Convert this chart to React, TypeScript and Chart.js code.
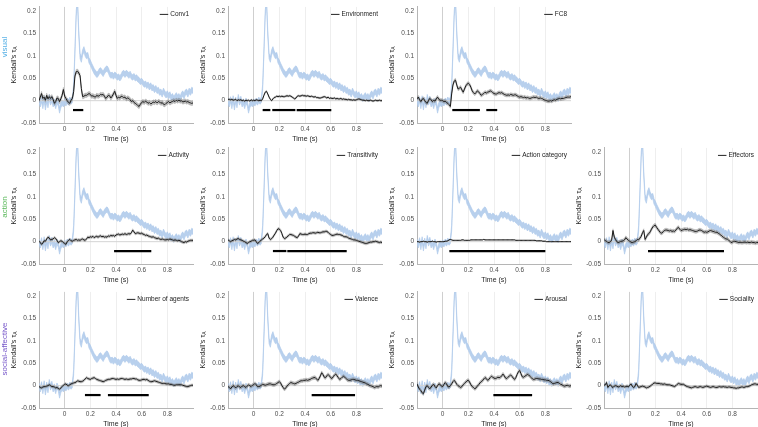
import React, { useEffect, useRef } from "react";
import { Chart, registerables } from "chart.js";
Chart.register(...registerables);

const TIME = [
  -0.2, -0.19, -0.18, -0.17, -0.16, -0.15, -0.14, -0.13, -0.12, -0.11,
  -0.1, -0.09, -0.08, -0.07, -0.06, -0.05, -0.04, -0.03, -0.02, -0.01,
  0, 0.01, 0.02, 0.03, 0.04, 0.05, 0.06, 0.07, 0.08, 0.09,
  0.1, 0.11, 0.12, 0.13, 0.14, 0.15, 0.16, 0.17, 0.18, 0.19,
  0.2, 0.21, 0.22, 0.23, 0.24, 0.25, 0.26, 0.27, 0.28, 0.29,
  0.3, 0.31, 0.32, 0.33, 0.34, 0.35, 0.36, 0.37, 0.38, 0.39,
  0.4, 0.41, 0.42, 0.43, 0.44, 0.45, 0.46, 0.47, 0.48, 0.49,
  0.5, 0.51, 0.52, 0.53, 0.54, 0.55, 0.56, 0.57, 0.58, 0.59,
  0.6, 0.61, 0.62, 0.63, 0.64, 0.65, 0.66, 0.67, 0.68, 0.69,
  0.7, 0.71, 0.72, 0.73, 0.74, 0.75, 0.76, 0.77, 0.78, 0.79,
  0.8, 0.81, 0.82, 0.83, 0.84, 0.85, 0.86, 0.87, 0.88, 0.89,
  0.9, 0.91, 0.92, 0.93, 0.94, 0.95, 0.96, 0.97, 0.98, 0.99,
  1.0,
];

const X_TICKS = [0, 0.2, 0.4, 0.6, 0.8];
const Y_TICKS = [-0.05, 0, 0.05, 0.1, 0.15, 0.2];
const Y_TICK_LABELS = ["-0.05", "0", "0.05", "0.1", "0.15", "0.2"];
const X_TICK_LABELS = ["0", "0.2", "0.4", "0.6", "0.8"];

// noise ceiling (blue band)
const NOISE_CEILING = [
  0.000, -0.008, 0.003, -0.012, 0.005, -0.015, 0.002, -0.010, 0.008, -0.004,
  0.004, -0.008, -0.002, -0.012, 0.000, -0.006, -0.022, -0.010, -0.004, -0.008,
  -0.002, -0.006, 0.000, -0.004, 0.002, -0.002, 0.002, 0.030, 0.110, 0.195,
  0.225, 0.150, 0.100, 0.092, 0.108, 0.115, 0.105, 0.100, 0.102, 0.090,
  0.085, 0.078, 0.072, 0.066, 0.062, 0.058, 0.060, 0.066, 0.068, 0.064,
  0.060, 0.066, 0.070, 0.072, 0.068, 0.060, 0.056, 0.058, 0.054, 0.058,
  0.056, 0.052, 0.054, 0.050, 0.054, 0.060, 0.062, 0.058, 0.062, 0.060,
  0.056, 0.060, 0.054, 0.052, 0.055, 0.050, 0.052, 0.048, 0.046, 0.042,
  0.044, 0.040, 0.036, 0.038, 0.033, 0.036, 0.030, 0.034, 0.028, 0.030,
  0.024, 0.028, 0.022, 0.024, 0.018, 0.020, 0.014, 0.022, 0.016, 0.012,
  0.016, 0.010, 0.014, 0.006, 0.010, 0.004, 0.008, 0.012, 0.006, 0.010,
  0.004, 0.012, 0.016, 0.010, 0.018, 0.020, 0.014, 0.022, 0.018, 0.024,
  0.022,
];
const NOISE_CEILING_SEM = 0.006;

const CONV1 = [
  0.000, 0.008, 0.016, 0.005, 0.008, 0.001, 0.012, 0.004, 0.009, 0.005,
  0.009, 0.003, -0.006, -0.002, 0.006, 0.005, -0.002, 0.004, 0.012, 0.025,
  0.010, 0.005, 0.000, -0.004, -0.006, 0.001, 0.005, 0.020, 0.055, 0.065,
  0.066, 0.062, 0.056, 0.027, 0.009, 0.010, 0.012, 0.012, 0.014, 0.016,
  0.014, 0.010, 0.011, 0.009, 0.008, 0.012, 0.010, 0.011, 0.014, 0.013,
  0.014, 0.010, 0.005, 0.008, 0.012, 0.011, 0.006, 0.010, 0.015, 0.021,
  0.012, 0.005, 0.008, 0.006, 0.010, 0.009, 0.007, 0.008, 0.004, 0.006,
  0.005, 0.002, -0.002, 0.000, -0.004, -0.006, -0.008, -0.011, -0.013, -0.008,
  -0.004, -0.002, -0.004, -0.001, -0.003, -0.006, -0.004, -0.007, -0.006, -0.003,
  -0.004, -0.002, -0.005, -0.002, -0.003, -0.006, -0.004, -0.008, -0.009, -0.006,
  -0.004, -0.002, -0.005, -0.003, -0.002, 0.000, -0.002, 0.001, -0.001, 0.001,
  -0.001, 0.000, -0.003, -0.002, -0.001, -0.003, -0.002, -0.004, -0.005, -0.006,
  -0.005,
];

const ENVIRONMENT = [
  0.003, 0.003, 0.002, 0.003, 0.001, 0.002, 0.003, 0.000, 0.002, 0.001,
  0.002, 0.000, 0.001, -0.001, 0.001, 0.000, 0.001, -0.001, 0.002, 0.000,
  0.001, 0.000, 0.002, 0.001, 0.000, 0.001, 0.000, 0.004, 0.012, 0.019,
  0.021, 0.015, 0.008, 0.003, 0.000, 0.004, 0.007, 0.008, 0.010, 0.009,
  0.010, 0.009, 0.010, 0.009, 0.009, 0.010, 0.011, 0.010, 0.011, 0.010,
  0.008, 0.006, 0.004, 0.006, 0.010, 0.011, 0.010, 0.011, 0.012, 0.011,
  0.011, 0.010, 0.011, 0.010, 0.009, 0.010, 0.009, 0.008, 0.009, 0.007,
  0.007, 0.006, 0.006, 0.007, 0.008, 0.009, 0.008, 0.006, 0.008, 0.005,
  0.006, 0.005, 0.005, 0.006, 0.004, 0.005, 0.004, 0.004, 0.005, 0.003,
  0.004, 0.003, 0.003, 0.002, 0.003, 0.002, 0.002, 0.001, 0.002, 0.001,
  0.002, 0.003, 0.004, 0.003, 0.002, 0.001, 0.001, 0.000, 0.001, 0.000,
  0.000, 0.001, 0.000, -0.001, 0.000, 0.001, 0.000, 0.000, 0.001, 0.000,
  0.000,
];

const FC8 = [
  0.004, 0.008, 0.002, -0.002, 0.003, 0.005, 0.000, -0.004, -0.006, 0.001,
  0.005, 0.002, -0.002, 0.001, -0.001, 0.004, 0.008, 0.003, 0.001, 0.001,
  0.000, -0.002, -0.001, -0.004, -0.006, -0.009, -0.013, 0.015, 0.035, 0.044,
  0.046, 0.035, 0.026, 0.028, 0.030, 0.024, 0.019, 0.026, 0.033, 0.037,
  0.039, 0.036, 0.030, 0.022, 0.018, 0.015, 0.018, 0.022, 0.020, 0.016,
  0.012, 0.014, 0.016, 0.019, 0.017, 0.019, 0.020, 0.022, 0.021, 0.018,
  0.016, 0.015, 0.015, 0.017, 0.018, 0.017, 0.018, 0.016, 0.014, 0.013,
  0.012, 0.013, 0.012, 0.014, 0.013, 0.012, 0.013, 0.013, 0.011, 0.009,
  0.008, 0.009, 0.008, 0.007, 0.008, 0.006, 0.007, 0.006, 0.005, 0.006,
  0.007, 0.008, 0.007, 0.008, 0.006, 0.005, 0.006, 0.005, 0.004, 0.002,
  0.001, 0.000, -0.001, -0.001, 0.000, -0.001, 0.001, 0.002, 0.001, 0.003,
  0.004, 0.005, 0.004, 0.005, 0.005, 0.006, 0.007, 0.008, 0.008, 0.008,
  0.009,
];

const ACTIVITY = [
  0.001, -0.002, -0.006, -0.003, 0.002, 0.001, 0.006, 0.010, 0.008, 0.004,
  0.005, 0.006, 0.009, 0.007, 0.003, -0.002, 0.000, 0.002, 0.001, -0.002,
  -0.004, -0.006, 0.000, 0.003, 0.005, 0.002, 0.001, 0.003, 0.004, 0.005,
  0.003, 0.004, 0.003, 0.005, 0.006, 0.004, 0.003, 0.006, 0.010, 0.009,
  0.011, 0.010, 0.012, 0.009, 0.011, 0.012, 0.010, 0.012, 0.013, 0.011,
  0.012, 0.010, 0.011, 0.010, 0.013, 0.012, 0.014, 0.013, 0.014, 0.012,
  0.015, 0.016, 0.017, 0.015, 0.016, 0.017, 0.016, 0.018, 0.016, 0.017,
  0.018, 0.017, 0.020, 0.026, 0.022, 0.018, 0.019, 0.020, 0.019, 0.018,
  0.019, 0.017, 0.016, 0.014, 0.015, 0.013, 0.012, 0.011, 0.010, 0.011,
  0.009, 0.008, 0.007, 0.008, 0.006, 0.005, 0.006, 0.005, 0.004, 0.004,
  0.005, 0.004, 0.006, 0.005, 0.004, 0.003, 0.004, 0.003, 0.002, 0.003,
  0.002, 0.000, -0.001, -0.002, 0.000, -0.001, 0.001, 0.002, 0.003, 0.003,
  0.003,
];

const TRANSITIVITY = [
  0.004, 0.002, 0.000, 0.002, 0.003, 0.005, 0.004, 0.006, 0.007, 0.005,
  0.004, 0.003, 0.001, 0.000, -0.002, -0.004, -0.002, 0.000, 0.001, 0.003,
  0.003, 0.004, 0.000, -0.004, -0.002, 0.001, 0.004, 0.006, 0.008, 0.011,
  0.016, 0.018, 0.008, 0.005, 0.007, 0.010, 0.015, 0.019, 0.025, 0.029,
  0.028, 0.025, 0.018, 0.010, 0.007, 0.008, 0.011, 0.013, 0.016, 0.016,
  0.015, 0.014, 0.012, 0.010, 0.009, 0.013, 0.018, 0.017, 0.016, 0.016,
  0.017, 0.016, 0.016, 0.018, 0.019, 0.019, 0.020, 0.020, 0.019, 0.020,
  0.021, 0.020, 0.020, 0.021, 0.022, 0.022, 0.023, 0.023, 0.021, 0.018,
  0.016, 0.014, 0.014, 0.015, 0.016, 0.017, 0.016, 0.016, 0.015, 0.014,
  0.012, 0.011, 0.011, 0.010, 0.008, 0.007, 0.006, 0.005, 0.004, 0.004,
  0.003, 0.002, 0.001, 0.000, -0.001, -0.002, -0.003, -0.004, -0.004, -0.003,
  -0.002, -0.001, -0.001, 0.000, 0.000, 0.001, 0.000, -0.001, -0.002, -0.001,
  -0.002,
];

const ACTION_CATEGORY = [
  0.000, 0.000, -0.001, 0.000, 0.000, 0.001, 0.000, 0.000, -0.001, 0.000,
  0.000, 0.000, 0.001, 0.000, 0.000, -0.001, 0.000, 0.000, 0.000, 0.000,
  0.000, 0.000, 0.001, 0.001, 0.002, 0.004, 0.005, 0.004, 0.003, 0.003,
  0.003, 0.003, 0.003, 0.003, 0.003, 0.004, 0.004, 0.003, 0.003, 0.003,
  0.003, 0.003, 0.004, 0.004, 0.004, 0.004, 0.004, 0.004, 0.004, 0.004,
  0.004, 0.004, 0.005, 0.004, 0.004, 0.004, 0.004, 0.004, 0.004, 0.004,
  0.004, 0.004, 0.004, 0.004, 0.004, 0.004, 0.004, 0.004, 0.004, 0.004,
  0.004, 0.004, 0.004, 0.004, 0.004, 0.004, 0.004, 0.003, 0.003, 0.003,
  0.003, 0.003, 0.003, 0.003, 0.003, 0.003, 0.003, 0.003, 0.003, 0.003,
  0.003, 0.003, 0.003, 0.002, 0.002, 0.002, 0.002, 0.002, 0.001, 0.001,
  0.001, 0.000, 0.000, 0.000, 0.000, 0.000, 0.000, 0.000, 0.000, 0.000,
  0.000, 0.000, 0.000, 0.000, 0.000, 0.000, 0.000, 0.000, 0.000, 0.000,
  0.000,
];

const EFFECTORS = [
  0.005, 0.002, 0.001, -0.002, -0.002, 0.000, 0.004, 0.025, 0.010, 0.005,
  0.000, -0.002, -0.001, 0.001, 0.001, 0.002, 0.004, 0.009, 0.006, 0.003,
  0.001, -0.001, -0.002, -0.001, 0.000, 0.002, 0.005, 0.004, 0.008, 0.012,
  0.020, 0.025, 0.005, 0.010, 0.016, 0.018, 0.022, 0.028, 0.033, 0.036,
  0.037, 0.032, 0.028, 0.024, 0.020, 0.019, 0.022, 0.025, 0.026, 0.026,
  0.025, 0.024, 0.025, 0.023, 0.024, 0.023, 0.026, 0.030, 0.032, 0.028,
  0.025, 0.026, 0.027, 0.028, 0.027, 0.028, 0.026, 0.027, 0.026, 0.025,
  0.024, 0.023, 0.023, 0.024, 0.026, 0.026, 0.025, 0.023, 0.021, 0.022,
  0.021, 0.022, 0.024, 0.025, 0.024, 0.023, 0.022, 0.021, 0.021, 0.019,
  0.017, 0.015, 0.012, 0.010, 0.008, 0.006, 0.006, 0.004, 0.001, -0.002,
  -0.001, 0.001, 0.001, 0.000, -0.001, -0.002, -0.001, -0.002, -0.002, -0.001,
  -0.001, -0.002, -0.001, -0.002, -0.002, -0.001, -0.002, -0.002, -0.003, -0.002,
  -0.002,
];

const NUMBER_OF_AGENTS = [
  -0.002, -0.004, -0.005, -0.003, -0.002, -0.002, -0.001, 0.000, 0.002, 0.000,
  -0.002, -0.002, -0.003, -0.005, -0.004, -0.006, -0.008, -0.005, -0.002, 0.001,
  0.003, 0.004, 0.001, 0.000, 0.002, 0.004, 0.005, 0.006, 0.007, 0.008,
  0.011, 0.010, 0.009, 0.009, 0.010, 0.012, 0.015, 0.018, 0.016, 0.015,
  0.014, 0.016, 0.017, 0.018, 0.016, 0.014, 0.013, 0.012, 0.011, 0.010,
  0.009, 0.010, 0.012, 0.013, 0.014, 0.014, 0.015, 0.016, 0.016, 0.015,
  0.014, 0.015, 0.014, 0.015, 0.016, 0.016, 0.015, 0.014, 0.015, 0.014,
  0.014, 0.015, 0.015, 0.016, 0.016, 0.015, 0.015, 0.013, 0.012, 0.012,
  0.013, 0.014, 0.014, 0.013, 0.014, 0.012, 0.010, 0.009, 0.009, 0.010,
  0.011, 0.010, 0.009, 0.008, 0.007, 0.006, 0.005, 0.005, 0.005, 0.004,
  0.004, 0.004, 0.003, 0.003, 0.002, 0.001, 0.001, 0.002, 0.002, 0.002,
  0.002, 0.002, 0.001, 0.000, -0.001, -0.002, -0.002, -0.001, 0.000, 0.001,
  0.001,
];

const VALENCE = [
  -0.002, -0.004, -0.007, -0.003, 0.000, -0.002, -0.005, -0.002, 0.000, -0.003,
  -0.004, -0.001, 0.000, -0.002, -0.004, -0.001, 0.002, 0.000, -0.002, 0.001,
  0.002, 0.005, 0.002, -0.002, -0.002, -0.001, 0.001, 0.003, 0.002, 0.001,
  0.002, 0.003, 0.004, 0.004, 0.003, 0.002, 0.002, 0.003, 0.005, 0.007,
  0.009, 0.006, 0.000, -0.004, -0.008, -0.005, -0.001, 0.002, 0.005, 0.007,
  0.006, 0.005, 0.004, 0.005, 0.007, 0.008, 0.010, 0.011, 0.011, 0.012,
  0.012, 0.013, 0.012, 0.013, 0.014, 0.016, 0.017, 0.018, 0.018, 0.015,
  0.012, 0.016, 0.022, 0.029, 0.025, 0.019, 0.018, 0.022, 0.025, 0.022,
  0.018, 0.016, 0.020, 0.024, 0.026, 0.022, 0.018, 0.014, 0.016, 0.019,
  0.021, 0.019, 0.016, 0.013, 0.012, 0.012, 0.013, 0.014, 0.014, 0.013,
  0.012, 0.012, 0.011, 0.010, 0.009, 0.008, 0.007, 0.006, 0.004, 0.003,
  0.001, 0.000, -0.001, -0.002, -0.004, -0.003, -0.002, -0.003, -0.001, 0.000,
  -0.001,
];

const AROUSAL = [
  0.004, -0.003, -0.008, -0.011, -0.016, -0.018, -0.010, -0.002, 0.000, -0.004,
  -0.007, -0.003, 0.001, 0.003, -0.002, -0.005, 0.000, 0.004, 0.003, -0.001,
  -0.002, 0.003, 0.007, 0.004, -0.002, -0.003, 0.000, 0.004, 0.009, 0.012,
  0.008, 0.003, 0.000, -0.002, -0.004, -0.002, 0.002, 0.005, 0.008, 0.011,
  0.012, 0.008, 0.002, -0.002, -0.004, -0.007, -0.005, -0.001, 0.002, 0.006,
  0.009, 0.011, 0.015, 0.018, 0.016, 0.012, 0.014, 0.018, 0.021, 0.019,
  0.017, 0.016, 0.017, 0.019, 0.018, 0.019, 0.022, 0.026, 0.022, 0.017,
  0.016, 0.019, 0.022, 0.024, 0.021, 0.017, 0.014, 0.018, 0.025, 0.031,
  0.034, 0.027, 0.020, 0.019, 0.021, 0.023, 0.025, 0.024, 0.021, 0.018,
  0.015, 0.014, 0.015, 0.016, 0.016, 0.015, 0.015, 0.014, 0.014, 0.013,
  0.013, 0.012, 0.012, 0.011, 0.009, 0.007, 0.004, 0.005, 0.006, 0.007,
  0.007, 0.005, 0.003, 0.002, 0.000, -0.001, 0.000, 0.001, 0.000, -0.001,
  0.000,
];

const SOCIALITY = [
  0.001, 0.002, 0.007, -0.004, 0.000, 0.002, -0.002, -0.004, -0.001, 0.000,
  -0.001, -0.003, -0.002, 0.000, -0.002, -0.001, -0.003, -0.002, -0.001, -0.003,
  0.001, 0.004, -0.001, -0.004, -0.002, 0.005, 0.001, -0.004, -0.003, -0.002,
  -0.001, -0.002, -0.003, -0.005, -0.004, -0.003, -0.001, 0.001, 0.004, 0.006,
  0.006, 0.005, 0.005, 0.005, 0.004, 0.004, 0.003, 0.004, 0.003, 0.002,
  0.002, 0.002, 0.001, 0.000, -0.001, -0.002, 0.000, 0.003, 0.005, 0.004,
  0.003, 0.003, 0.003, 0.001, -0.001, -0.002, -0.003, -0.004, -0.005, -0.004,
  -0.003, -0.002, -0.003, -0.004, -0.003, -0.002, -0.003, -0.004, -0.003, -0.002,
  -0.001, -0.002, -0.003, -0.004, -0.003, -0.002, -0.003, -0.004, -0.004, -0.003,
  -0.002, -0.003, -0.003, -0.002, -0.003, -0.003, -0.004, -0.003, -0.003, -0.004,
  -0.004, -0.005, -0.005, -0.006, -0.005, -0.005, -0.004, -0.003, -0.003, -0.004,
  -0.003, -0.002, -0.002, -0.001, 0.000, 0.002, 0.003, 0.004, 0.004, 0.003,
  0.003,
];

// significant time windows [start, end] (s)
const CONV1_SIG = [[0.065, 0.145]];
const ENVIRONMENT_SIG = [[0.07, 0.13], [0.145, 0.325], [0.335, 0.605]];
const FC8_SIG = [[0.075, 0.29], [0.34, 0.425]];
const ACTIVITY_SIG = [[0.385, 0.675]];
const TRANSITIVITY_SIG = [[0.15, 0.255], [0.262, 0.725]];
const ACTION_CATEGORY_SIG = [[0.052, 0.8]];
const EFFECTORS_SIG = [[0.143, 0.735]];
const NUMBER_OF_AGENTS_SIG = [[0.158, 0.28], [0.337, 0.655]];
const VALENCE_SIG = [[0.452, 0.79]];
const AROUSAL_SIG = [[0.395, 0.697]];
const SOCIALITY_SIG: number[][] = [];
const SIG_LEVEL = -0.021;

const ROW_LABELS = ["visual", "action", "social-affective"];
const ROW_COLORS = ["#55b0e6", "#57b757", "#7656c9"];

const PANELS = [
  { name: "Conv1", values: CONV1, sem: 0.005, sig: CONV1_SIG, row: 0, col: 0 },
  { name: "Environment", values: ENVIRONMENT, sem: 0.002, sig: ENVIRONMENT_SIG, row: 0, col: 1 },
  { name: "FC8", values: FC8, sem: 0.004, sig: FC8_SIG, row: 0, col: 2 },
  { name: "Activity", values: ACTIVITY, sem: 0.003, sig: ACTIVITY_SIG, row: 1, col: 0 },
  { name: "Transitivity", values: TRANSITIVITY, sem: 0.003, sig: TRANSITIVITY_SIG, row: 1, col: 1 },
  { name: "Action category", values: ACTION_CATEGORY, sem: 0.0008, sig: ACTION_CATEGORY_SIG, row: 1, col: 2 },
  { name: "Effectors", values: EFFECTORS, sem: 0.004, sig: EFFECTORS_SIG, row: 1, col: 3 },
  { name: "Number of agents", values: NUMBER_OF_AGENTS, sem: 0.003, sig: NUMBER_OF_AGENTS_SIG, row: 2, col: 0 },
  { name: "Valence", values: VALENCE, sem: 0.004, sig: VALENCE_SIG, row: 2, col: 1 },
  { name: "Arousal", values: AROUSAL, sem: 0.004, sig: AROUSAL_SIG, row: 2, col: 2 },
  { name: "Sociality", values: SOCIALITY, sem: 0.003, sig: SOCIALITY_SIG, row: 2, col: 3 },
];

// layout
const COL_LEFT = [39, 228, 417, 604];
const ROW_TOP = [2, 143, 287];
const ROW_LABEL_Y = [47, 207, 349];
const PLOT_W = 154;
const PLOT_H = 121;
const PAD_L = 39;
const PAD_T = 2;
const PAD_R = 4;
const PAD_B = 22;
const FONT = "'Liberation Sans', Arial, Helvetica, sans-serif";

type PanelDef = (typeof PANELS)[number];

function Panel({ p }: { p: PanelDef }) {
  const ref = useRef<HTMLCanvasElement>(null);
  const W = PAD_L + PLOT_W + PAD_R;
  const H = PAD_T + PLOT_H + PAD_B;
  useEffect(() => {
    const pts = (vals: number[], off: number) => vals.map((v, i) => ({ x: TIME[i], y: v + off }));
    const datasets: any[] = [
      { data: pts(NOISE_CEILING, -NOISE_CEILING_SEM), borderColor: "#aac6ea", borderWidth: 0.6, pointRadius: 0, fill: false, order: 20 },
      { data: pts(NOISE_CEILING, NOISE_CEILING_SEM), borderColor: "#aac6ea", borderWidth: 0.6, pointRadius: 0, fill: "-1", backgroundColor: "rgba(180,205,236,0.95)", order: 19 },
      { data: [{ x: -0.2, y: 0 }, { x: 1.0, y: 0 }], borderColor: "#d4d4d4", borderWidth: 1, pointRadius: 0, order: 18 },
      { data: pts(p.values, -p.sem), borderColor: "rgba(120,120,120,0.6)", borderWidth: 0.4, pointRadius: 0, fill: false, order: 10 },
      { data: pts(p.values, p.sem), borderColor: "rgba(120,120,120,0.6)", borderWidth: 0.4, pointRadius: 0, fill: "-1", backgroundColor: "rgba(110,110,110,0.45)", order: 9 },
      { data: pts(p.values, 0), borderColor: "#1a1a1a", borderWidth: 1, pointRadius: 0, fill: false, order: 5 },
    ];
    p.sig.forEach((s) => {
      datasets.push({
        data: [{ x: s[0], y: SIG_LEVEL }, { x: s[1], y: SIG_LEVEL }],
        borderColor: "#000", borderWidth: 2.2, pointRadius: 0, fill: false, borderCapStyle: "butt", order: 1,
      });
    });

    const textPlugin = {
      id: "panelText",
      afterDraw(chart: any) {
        const { ctx, chartArea } = chart;
        const cy = (chartArea.top + chartArea.bottom) / 2;
        ctx.save();
        // legend
        ctx.font = `6.5px ${FONT}`;
        ctx.fillStyle = "#222";
        ctx.textBaseline = "middle";
        ctx.textAlign = "left";
        const tw = ctx.measureText(p.name).width;
        const tx = chartArea.right - 4 - tw;
        const ly = chartArea.top + 7;
        ctx.fillText(p.name, tx, ly);
        ctx.strokeStyle = "#222";
        ctx.lineWidth = 1;
        ctx.beginPath();
        ctx.moveTo(tx - 10.5, ly + 0.5);
        ctx.lineTo(tx - 2, ly + 0.5);
        ctx.stroke();
        // y title
        ctx.translate(chartArea.left - 25, cy);
        ctx.rotate(-Math.PI / 2);
        const main = "Kendall's \u03c4";
        ctx.font = `5px ${FONT}`;
        const subW = ctx.measureText("A").width;
        ctx.font = `7.2px ${FONT}`;
        const mw = ctx.measureText(main).width;
        const x0 = -(mw + subW) / 2;
        ctx.fillStyle = "#262626";
        ctx.textAlign = "left";
        ctx.fillText(main, x0, 0);
        ctx.font = `5px ${FONT}`;
        ctx.fillText("A", x0 + mw, 2);
        ctx.restore();
        if (p.col === 0) {
          ctx.save();
          ctx.translate(4.5, ROW_LABEL_Y[p.row] - ROW_TOP[p.row] + PAD_T);
          ctx.rotate(-Math.PI / 2);
          ctx.font = `8px ${FONT}`;
          ctx.fillStyle = ROW_COLORS[p.row];
          ctx.textAlign = "center";
          ctx.textBaseline = "middle";
          ctx.fillText(ROW_LABELS[p.row], 0, 0);
          ctx.restore();
        }
      },
    };

    const chart = new Chart(ref.current as HTMLCanvasElement, {
      type: "line",
      data: { datasets },
      options: {
        animation: false,
        responsive: false,
        maintainAspectRatio: false,
        events: [],
        layout: { padding: { top: PAD_T, right: PAD_R, left: 0, bottom: 0 } },
        plugins: { legend: { display: false }, tooltip: { enabled: false }, title: { display: false } },
        scales: {
          x: {
            type: "linear",
            min: -0.2,
            max: 1.0,
            afterBuildTicks: (s: any) => { s.ticks = X_TICKS.map((v) => ({ value: v })); },
            afterFit: (s: any) => { s.height = PAD_B; },
            ticks: {
              autoSkip: false,
              maxRotation: 0,
              padding: 2,
              color: "#4d4d4d",
              font: { size: 6.5, family: FONT },
              callback: (v: any) => X_TICK_LABELS[X_TICKS.indexOf(Number(v))] ?? "",
            },
            grid: {
              drawTicks: false,
              color: (c: any) => (c.tick && c.tick.value === 0 ? "#cfcfcf" : "#eeeeee"),
              lineWidth: 1,
            },
            border: { display: true, color: "#b5b5b5", width: 1 },
            title: { display: true, text: "Time (s)", color: "#262626", font: { size: 7, family: FONT }, padding: { top: 0, bottom: 2 } },
          },
          y: {
            type: "linear",
            min: -0.05,
            max: 0.21,
            afterBuildTicks: (s: any) => { s.ticks = Y_TICKS.map((v) => ({ value: v })); },
            afterFit: (s: any) => { s.width = PAD_L; },
            ticks: {
              autoSkip: false,
              padding: 3,
              color: "#4d4d4d",
              font: { size: 6.5, family: FONT },
              callback: (v: any) => {
                const i = Y_TICKS.findIndex((t) => Math.abs(t - Number(v)) < 1e-9);
                return i >= 0 ? Y_TICK_LABELS[i] : "";
              },
            },
            grid: { display: false, drawTicks: false },
            border: { display: true, color: "#b5b5b5", width: 1 },
          },
        },
      } as any,
      plugins: [textPlugin],
    });
    return () => chart.destroy();
  }, []);
  return (
    <canvas
      ref={ref}
      width={W}
      height={H}
      style={{ position: "absolute", left: COL_LEFT[p.col] - PAD_L, top: ROW_TOP[p.row] - PAD_T, width: W, height: H }}
    />
  );
}

export default function App() {
  return (
    <div style={{ position: "fixed", left: 0, top: 0, width: 758, height: 427, overflow: "hidden", background: "#fff" }}>
      {PANELS.map((p) => (
        <Panel key={p.name} p={p} />
      ))}
    </div>
  );
}
